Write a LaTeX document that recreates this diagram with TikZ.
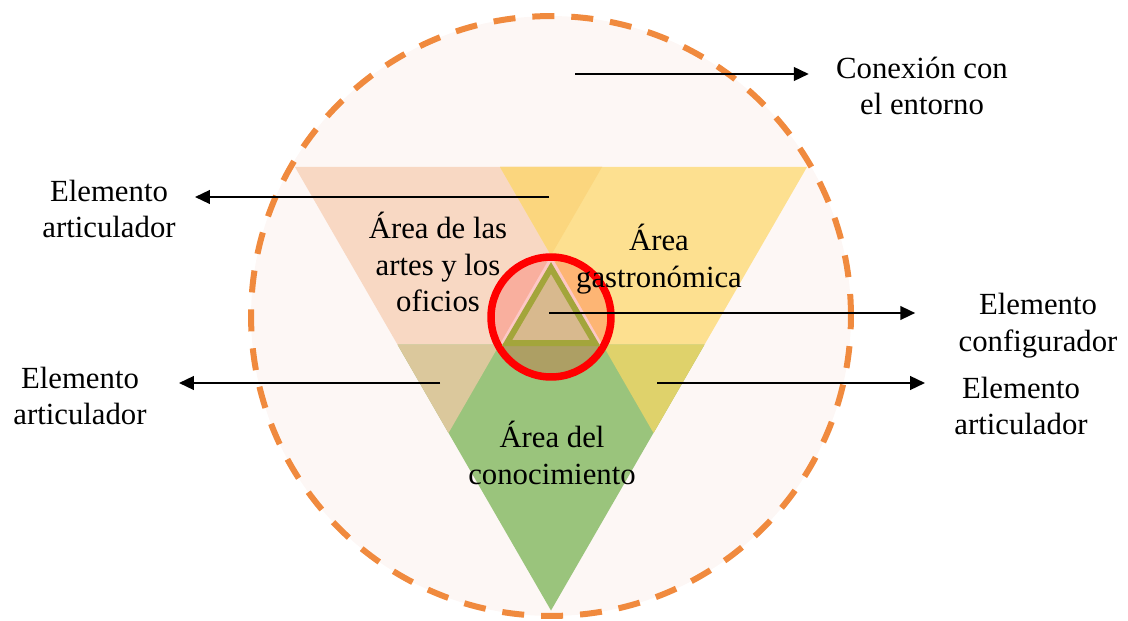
\documentclass[tikz,border=0pt]{standalone}
\usepackage{fontspec}
\setmainfont{Liberation Serif}
\usepackage{xcolor}
\usepackage{tikz}
\usetikzlibrary{positioning,arrows.meta}

\definecolor{fondo}{HTML}{FDF7F5}
\definecolor{borde}{HTML}{F08A3E}
\definecolor{artes}{HTML}{F8D8C3}
\definecolor{gastro}{HTML}{FDE090}
\definecolor{conoc}{HTML}{9AC47C}
\definecolor{crucesup}{HTML}{FBD67E}
\definecolor{cruceizq}{HTML}{DBC89C}
\definecolor{cruceder}{HTML}{DFD26B}
\definecolor{oliva}{HTML}{A3A53B}
\definecolor{tostado}{HTML}{D8B98E}

\begin{document}
\begin{tikzpicture}[x=0.02cm,y=-0.02cm,
            texto/.style={align=center,inner sep=0pt,font=\fontsize{17.5}{21}\selectfont},
            flecha/.style={-{Triangle[length=0.3cm,width=0.27cm]},line width=1.5pt}]
            \useasboundingbox (0,0) rectangle (1128,621);

            \fill[fondo] (551,316) circle[radius=6cm];
            \fill[artes] (295,167) -- (602,167) -- (448.5,433) -- cycle;
            \fill[gastro] (500,167) -- (807,167) -- (653.5,433) -- cycle;
            \fill[conoc] (397.5,344.5) -- (704.5,344.5) -- (551,610.5) -- cycle;
            \fill[crucesup] (500,167) -- (602,167) -- (551,255.3) -- cycle;
            \fill[cruceizq] (397.5,344.5) -- (499.5,344.5) -- (448.5,433) -- cycle;
            \fill[cruceder] (602.5,344.5) -- (704.5,344.5) -- (653.5,433) -- cycle;
            \draw[borde, line width=0.12cm, dash pattern=on 0.44cm off 0.34cm] (551,316) circle[radius=6cm];

            \draw[red, line width=0.15cm, fill=red, fill opacity=0.19] (551,317) circle[radius=1.2cm];
            \draw[oliva, line width=0.12cm, fill=tostado, line join=miter] (551,268) -- (595,343) -- (507,343) -- cycle;

            \node (artes) [texto] at (438,262) {Área de las\\artes y los\\oficios};
            \node (gastro) [texto] at (659,259) {Área\\gastronómica};
            \node (conoc) [texto] at (552,453) {Área del\\conocimiento};

            \node (conexion) [texto] at (922,86) {Conexión con\\el entorno};
            \node (articSup) [texto] at (109,209) {Elemento\\articulador};
            \node (articIzq) [texto] at (80,396) {Elemento\\articulador};
            \node (config) [texto] at (1038,326) {Elemento\\configurador};
            \node (articDer) [texto] at (1021,406) {Elemento\\articulador};

            \coordinate (oConexion) at (575,74);
            \coordinate (oArticSup) at (549,197);
            \coordinate (oConfig) at (549,313);
            \coordinate (oArticIzq) at (440,383);
            \coordinate (oArticDer) at (657,383);

            \path[flecha] (oConexion) edge[shorten >=0.54cm] (oConexion -| conexion.west);
            \path[flecha] (oArticSup) edge[shorten >=0.38cm] (oArticSup -| articSup.east);
            \path[flecha] (oConfig) edge[shorten >=0.86cm] (oConfig -| config.west);
            \path[flecha] (oArticIzq) edge[shorten >=0.64cm] (oArticIzq -| articIzq.east);
            \path[flecha] (oArticDer) edge[shorten >=0.58cm] (oArticDer -| articDer.west);
        \end{tikzpicture}
\end{document}
